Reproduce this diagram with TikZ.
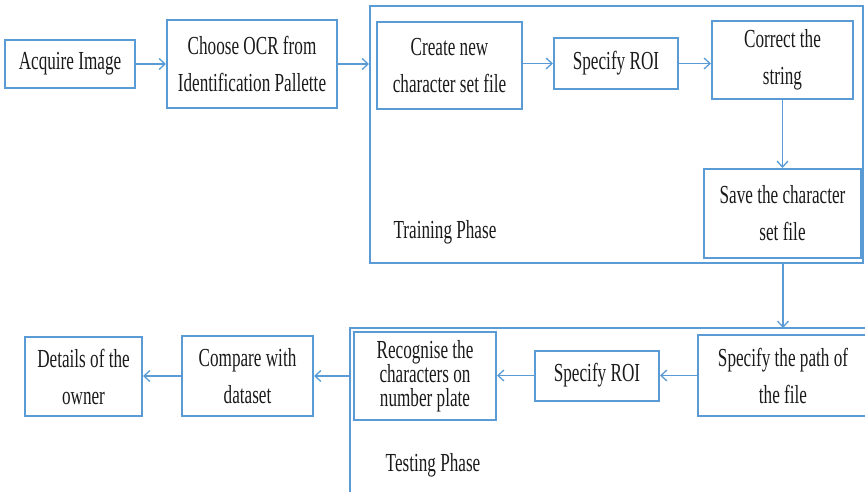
\documentclass[tikz,border=0pt]{standalone}
\usepackage{graphicx}
\usepackage{fontspec}
\setmainfont{Liberation Serif}
\usetikzlibrary{arrows.meta}
\definecolor{lblue}{HTML}{5B9BD5}
\definecolor{ink}{HTML}{1A1A1A}
\newcommand\sq[1]{\scalebox{0.66}[1]{#1}}
\tikzset{
  box/.style={draw=lblue, line width=2pt, inner sep=0pt, align=center, text=ink,
    font=\fontsize{26}{37}\selectfont},
  tightbox/.style={box, font=\fontsize{26}{24}\selectfont},
  lbl/.style={inner sep=0pt, text=ink, font=\fontsize{26}{30}\selectfont},
  conn/.style={draw=lblue, line width=1.3pt, -{Straight Barb[length=6pt,width=11pt,line width=1.3pt]}},
  frameline/.style={draw=lblue, line width=2pt}
}
\begin{document}
\begin{tikzpicture}[x=1pt,y=-1pt]
\useasboundingbox (0,0) rectangle (865,492);
% top row
\node[box, minimum width=130, minimum height=48] (acq) at (70,64) {\sq{Acquire Image}};
\node[box, minimum width=170, minimum height=88] (choose) at (252,64) {\sq{Choose OCR from}\\\sq{Identification Pallette}};
\node[box, minimum width=493, minimum height=257] (train) at (616.5,134.5) {};
\node[box, minimum width=145, minimum height=87] (create) at (449.5,65.5) {\sq{Create new}\\\sq{character set file}};
\node[box, minimum width=124, minimum height=51] (roia) at (616,63.5) {\sq{Specify ROI}};
\node[box, minimum width=141, minimum height=78] (correct) at (782.5,60) {\sq{Correct the}\\\sq{string}};
\node[box, minimum width=157, minimum height=89] (save) at (782.5,213.5) {\sq{Save the character}\\\sq{set file}};
\node[lbl] (trainlbl) at (445,232) {\sq{Training Phase}};
% testing phase frame
\coordinate (tbl) at (350,492);
\coordinate (ttl) at (350,328);
\coordinate (ttr) at (865,328);
\draw[frameline] (tbl) -- (ttl) -- (ttr);
\coordinate (ttop) at (783,328);
\coordinate (tleft) at (350,376);
\node[tightbox, minimum width=142, minimum height=88] (recog) at (425,376) {\sq{Recognise the}\\\sq{characters on}\\\sq{number plate}};
\node[box, minimum width=124, minimum height=50] (roib) at (597,375.5) {\sq{Specify ROI}};
\node[box, minimum width=170, minimum height=81] (path) at (783,375.5) {\sq{Specify the path of}\\\sq{the file}};
\node[box, minimum width=131, minimum height=80] (comp) at (247.5,376) {\sq{Compare with}\\\sq{dataset}};
\node[box, minimum width=117, minimum height=79] (det) at (83.5,376.5) {\sq{Details of the}\\\sq{owner}};
\node[lbl] (testlbl) at (433,465) {\sq{Testing Phase}};
% connectors
\draw[conn] (acq.east) -- (choose.west |- acq.east);
\draw[conn] (choose.east) -- (choose.east -| train.west);
\draw[conn] (create.east |- roia) -- (roia.west);
\draw[conn] (roia.east) -- (roia.east -| correct.west);
\draw[conn] (correct.south) -- (save.north);
\draw[conn] (train.south -| ttop) -- (ttop);
\draw[conn] (path.west |- roib) -- (roib.east);
\draw[conn] (roib.west) -- (roib.west -| recog.east);
\draw[conn] (tleft) -- (tleft -| comp.east);
\draw[conn] (comp.west) -- (comp.west -| det.east);
\end{tikzpicture}
\end{document}
